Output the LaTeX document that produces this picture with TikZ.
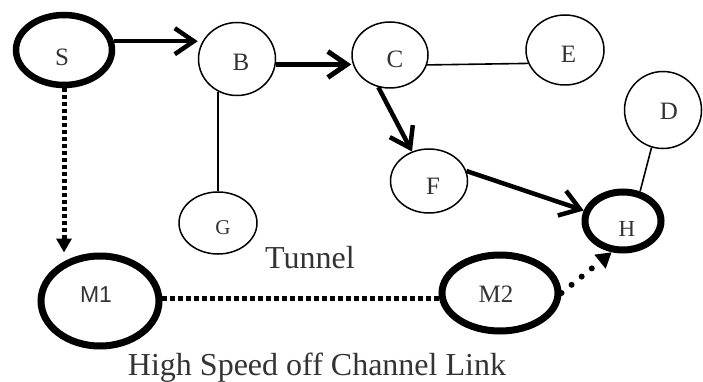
\documentclass[tikz,border=0pt]{standalone}
\usepackage{fontspec}
\setmainfont{Liberation Serif}
\newfontfamily\sansfam{Liberation Sans}
\usetikzlibrary{shapes.geometric,arrows.meta}
% letter placed at an offset (dx right, dy down) from the node centre
\newcommand\ltext[3]{\makebox[0pt]{\kern#1\kern#1\raisebox{-#2}[0pt][0pt]{\raisebox{-.5\height}{#3}}}}
\begin{document}
\begin{tikzpicture}[x=1pt,y=-1pt,
  thinnode/.style={draw,ellipse,line width=1.5pt,inner sep=0pt,text=black!80,
    font=\fontsize{25}{28}\selectfont},
  thicknode/.style={thinnode,line width=7pt},
  solidarrow/.style={line width=4.5pt,-{Straight Barb[length=19pt,width=26pt]}},
  thinline/.style={line width=1.6pt},
  dotarrow/.style={line width=5pt,dash pattern=on 4pt off 3pt,-{Triangle[length=14pt,width=15pt]}},
  dotline/.style={line width=5pt,dash pattern=on 5pt off 3pt},
  rounddots/.style={line width=6pt,line cap=round,dash pattern=on 0pt off 13pt,-{Triangle[length=15pt,width=17pt]}},
  caption/.style={anchor=base,text=black!80,font=\fontsize{32}{36}\selectfont}
]
\useasboundingbox (0,0) rectangle (703,382);

\node[thicknode,line width=6.5pt,minimum width=96pt,minimum height=70pt] (S) at (64,50) {\ltext{-2pt}{7pt}{S}};
\node[thinnode,minimum width=77pt,minimum height=73pt] (B) at (237,59) {\ltext{4pt}{3pt}{B}};
\node[thinnode,minimum width=76pt,minimum height=66pt] (C) at (390,55) {\ltext{5pt}{4pt}{C}};
\node[thinnode,minimum width=78pt,minimum height=70pt] (E) at (565,50) {\ltext{3.5pt}{4.5pt}{E}};
\node[thinnode,minimum width=77pt,minimum height=77pt] (D) at (663,110) {\ltext{6pt}{1.5pt}{D}};
\node[thinnode,minimum width=77pt,minimum height=64pt] (F) at (429,181) {\ltext{4pt}{5.5pt}{F}};
\node[thinnode,minimum width=78pt,minimum height=62pt,font=\fontsize{21}{24}\selectfont] (G) at (218,223) {\ltext{5pt}{5pt}{G}};
\node[thicknode,minimum width=76pt,minimum height=58pt,font=\fontsize{23}{26}\selectfont] (H) at (623,221) {\ltext{4pt}{7.5pt}{H}};
\node[thicknode,minimum width=118pt,minimum height=90pt,font=\sansfam\fontsize{23}{26}\selectfont] (M1) at (100,301) {\ltext{-4pt}{-6pt}{M1}};
\node[thicknode,minimum width=116pt,minimum height=76pt,font=\fontsize{25}{28}\selectfont] (M2) at (500,293) {\ltext{-4pt}{1.5pt}{M2}};

\node[caption] (tunnel) at (310,268) {Tunnel};
\node[caption] (link) at (317,375) {High Speed off Channel Link};

\draw[solidarrow] (S.10) -- (S.10 -| B.west);
\draw[solidarrow,line width=5pt] (B.-8) -- (B.-8 -| C.west);
\draw[solidarrow] (C.250) -- (F.120);
\draw[solidarrow] (F.15) -- (H.165);
\draw[thinline] (B.240) -- (B.240 |- G.north);
\draw[thinline] (C.-15) -- (E.200);
\draw[thinline] (D.253) -- (H.60);
\draw[dotarrow] (S.south) -- (S.south |- M1.north);
\draw[dotline] (M1.2) -- (M1.2 -| M2.west);
\draw[rounddots] (M2.east) -- (H.250);
\end{tikzpicture}
\end{document}
